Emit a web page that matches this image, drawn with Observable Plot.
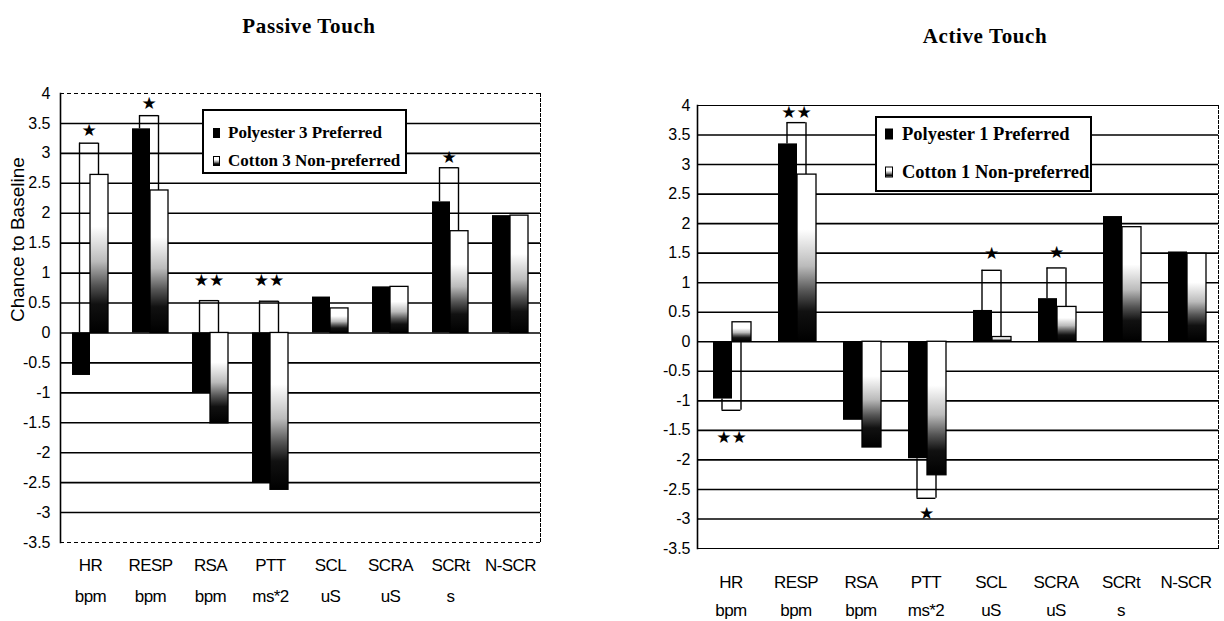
<!DOCTYPE html>
<html>
<head>
<meta charset="utf-8">
<script src="https://cdn.jsdelivr.net/npm/d3@7"></script>
<script src="https://cdn.jsdelivr.net/npm/@observablehq/plot@0.6"></script>
<style>
  html, body { margin: 0; padding: 0; background: #fff; }
  #fig { position: relative; width: 1224px; height: 621px; overflow: hidden; background: #fff; }
  .panel { position: absolute; top: 0; }
  .title { position: absolute; font-family: "Liberation Serif", "DejaVu Serif", serif; font-weight: bold;
           font-size: 21px; letter-spacing: 0.6px; white-space: nowrap; transform: translate(-50%, -50%); color: #000; }
  .legend { position: absolute; background: #fff; border: 2px solid #000; box-sizing: border-box;
            font-family: "Liberation Serif", "DejaVu Serif", serif; font-weight: bold; color: #000; }
  .legend .row { position: absolute; white-space: nowrap; display: flex; align-items: center; transform: translateY(-50%); }
  .sw { display: inline-block; box-sizing: border-box; }
  .sw.poly { background: #000; }
  .sw.cotton { border: 1.5px solid #000; background: linear-gradient(to bottom, #fff 0%, #fff 35%, #999 62%, #111 85%, #000 100%); }
  svg g[aria-label="x-axis tick label"] text { letter-spacing: -0.6px; }
</style>
</head>
<body>
<div id="fig"></div>
<script>
// ---------------- data ----------------
const categories = ["HR", "RESP", "RSA", "PTT", "SCL", "SCRA", "SCRt", "N-SCR"];
const units = ["bpm", "bpm", "bpm", "ms*2", "uS", "uS", "s", ""];
const yTicks = [4, 3.5, 3, 2.5, 2, 1.5, 1, 0.5, 0, -0.5, -1, -1.5, -2, -2.5, -3, -3.5];

// Passive touch
const passiveTitle = "Passive Touch";
const passiveSeries = ["Polyester 3 Preferred", "Cotton 3 Non-preferred"];
const passivePoly = [-0.71, 3.41, -1.00, -2.51, 0.60, 0.77, 2.19, 1.96];
const passiveCotton = [2.64, 2.38, -1.51, -2.62, 0.41, 0.77, 1.70, 1.96];
const passiveBracketCats = ["HR", "RESP", "RSA", "PTT", "SCRt"];
const passiveBracketLevels = [3.17, 3.63, 0.54, 0.53, 2.76];
const passiveStars = ["★", "★", "★★", "★★", "★"];
const passiveStarValues = [3.38, 3.83, 0.88, 0.88, 2.93];

// Active touch
const activeTitle = "Active Touch";
const activeSeries = ["Polyester 1 Preferred", "Cotton 1 Non-preferred"];
const activePoly = [-0.97, 3.35, -1.33, -1.98, 0.53, 0.73, 2.12, 1.52];
const activeCotton = [0.33, 2.83, -1.79, -2.26, 0.08, 0.59, 1.94, 1.49];
const activeBracketCats = ["HR", "RESP", "PTT", "SCL", "SCRA"];
const activeBracketLevels = [-1.16, 3.71, -2.65, 1.21, 1.25];
const activeStars = ["★★", "★★", "★", "★", "★"];
const activeStarValues = [-1.62, 3.88, -2.91, 1.49, 1.51];

const yAxisTitle = "Chance to Baseline";

// ---------------- drawing ----------------
function panel(cfg) {
  const rows = categories.map((c, i) => ({cat: c, unit: units[i], poly: cfg.poly[i], cotton: cfg.cotton[i]}));
  const byCat = new Map(rows.map(r => [r.cat, r]));
  const brackets = cfg.bracketCats.map((c, i) => {
    const r = byCat.get(c), lv = cfg.levels[i];
    const above = lv > 0;
    return {
      cat: c, level: lv, star: cfg.stars[i], starY: cfg.starValues[i],
      startP: above ? Math.max(r.poly, 0) : Math.min(r.poly, 0),
      startC: above ? Math.max(r.cotton, 0) : Math.min(r.cotton, 0)
    };
  });
  const gridVals = yTicks.filter(t => t > -3.5 && t < 4);
  const edgeVals = yTicks.filter(t => t === -3.5 || t === 4);
  const g = cfg.geom;
  const marks = [
    Plot.ruleY(gridVals, {stroke: "black", strokeWidth: 1.6}),
    Plot.ruleY(edgeVals, {stroke: "black", strokeWidth: 1, strokeDasharray: cfg.edgeDash}),
    Plot.frame({anchor: "right", stroke: "black", strokeWidth: 1, strokeDasharray: "3,2"}),
    Plot.frame({anchor: "left", stroke: "black", strokeWidth: 1.6}),
    Plot.barY(rows, {x: "cat", y: "poly", fill: "black", insetLeft: g.pL, insetRight: g.pR}),
    Plot.barY(rows, {x: "cat", y: "cotton", fill: `url(#${cfg.gradId})`, stroke: "black", strokeWidth: 1.3,
                     insetLeft: g.cL, insetRight: g.cR}),
    Plot.ruleX(brackets, {x: "cat", y1: "startP", y2: "level", dx: g.legL, stroke: "black", strokeWidth: 1.4}),
    Plot.ruleX(brackets, {x: "cat", y1: "startC", y2: "level", dx: g.legR, stroke: "black", strokeWidth: 1.4}),
    Plot.ruleY(brackets, {y: "level", x1: "cat", x2: "cat", insetLeft: g.bw / 2 + g.legL, insetRight: g.bw / 2 - g.legR,
                          stroke: "black", strokeWidth: 1.4}),
    Plot.text(brackets, {x: "cat", y: "starY", text: "star", dx: (g.legL + g.legR) / 2,
                         fontFamily: "DejaVu Sans, sans-serif", fontSize: 17, fill: "black"}),
    Plot.axisY({ticks: yTicks, tickFormat: d => String(d), tickSize: 0, tickPadding: g.tickPad, fontSize: 16, label: null}),
    Plot.axisX({tickFormat: d => d, tickSize: 0, tickPadding: g.xPad1, fontSize: 17, label: null}),
    Plot.axisX({tickFormat: d => byCat.get(d).unit, tickSize: 0, tickPadding: g.xPad2, fontSize: 17, label: null})
  ];
  if (cfg.yTitle) {
    marks.push(Plot.text([cfg.yTitle], {text: d => d, frameAnchor: "left", rotate: -90, dx: -43, dy: 4,
                                        fontSize: 19, fill: "black"}));
  }
  const svg = Plot.plot({
    width: cfg.width, height: 621,
    marginLeft: cfg.mL, marginRight: cfg.mR, marginTop: cfg.mT, marginBottom: cfg.mB,
    x: {domain: categories, padding: 0, label: null},
    y: {domain: [-3.5, 4], label: null},
    style: {fontFamily: "Liberation Sans, Arial, sans-serif", fontSize: "16px", background: "transparent",
            color: "black", overflow: "visible"},
    marks
  });
  const defs = d3.select(svg).insert("defs", ":first-child");
  const lg = defs.append("linearGradient").attr("id", cfg.gradId).attr("x1", 0).attr("y1", 0).attr("x2", 0).attr("y2", 1);
  [[0, "#fff"], [0.33, "#fff"], [0.55, "#bbb"], [0.7, "#555"], [0.82, "#111"], [1, "#000"]]
    .forEach(([o, c]) => lg.append("stop").attr("offset", o).attr("stop-color", c));
  svg.classList.add("panel");
  svg.style.left = cfg.left + "px";
  return svg;
}

const fig = document.getElementById("fig");

fig.appendChild(panel({
  poly: passivePoly, cotton: passiveCotton, bracketCats: passiveBracketCats, levels: passiveBracketLevels,
  stars: passiveStars, starValues: passiveStarValues, gradId: "gradPassive", yTitle: yAxisTitle,
  width: 600, left: 0, mL: 60, mR: 60, mT: 93, mB: 79, edgeDash: "4,3",
  geom: {bw: 60, pL: 12, pR: 30, cL: 30, cR: 12, legL: -11, legR: 8, tickPad: 10, xPad1: 16, xPad2: 47}
}));

fig.appendChild(panel({
  poly: activePoly, cotton: activeCotton, bracketCats: activeBracketCats, levels: activeBracketLevels,
  stars: activeStars, starValues: activeStarValues, gradId: "gradActive", yTitle: null,
  width: 612, left: 612, mL: 85, mR: 6, mT: 105, mB: 73, edgeDash: null,
  geom: {bw: 65.1, pL: 15, pR: 31, cL: 34, cR: 12, legL: -9, legR: 10, tickPad: 7, xPad1: 27, xPad2: 55}
}));

function addTitle(text, cx, cy) {
  const d = document.createElement("div");
  d.className = "title"; d.textContent = text;
  d.style.left = cx + "px"; d.style.top = cy + "px";
  fig.appendChild(d);
}
addTitle(passiveTitle, 309, 26);
addTitle(activeTitle, 985, 36);

function addLegend(series, box) {
  const lg = document.createElement("div");
  lg.className = "legend";
  Object.assign(lg.style, {left: box.x + "px", top: box.y + "px", width: box.w + "px", height: box.h + "px"});
  series.forEach((name, i) => {
    const row = document.createElement("div");
    row.className = "row";
    row.style.left = box.padL + "px";
    row.style.top = box.rows[i] + "px";
    row.style.fontSize = box.fs + "px";
    const sw = document.createElement("span");
    sw.className = "sw " + (i === 0 ? "poly" : "cotton");
    Object.assign(sw.style, {width: box.sw[0] + "px", height: box.sw[1] + "px", marginRight: box.gap + "px"});
    const t = document.createElement("span");
    t.textContent = name;
    row.appendChild(sw); row.appendChild(t);
    lg.appendChild(row);
  });
  fig.appendChild(lg);
}
addLegend(passiveSeries, {x: 202, y: 109, w: 205, h: 65, padL: 9, rows: [22, 50], fs: 17, sw: [7, 10], gap: 8});
addLegend(activeSeries, {x: 875, y: 116, w: 217, h: 76, padL: 8, rows: [16, 54], fs: 18.5, sw: [8, 11], gap: 9});
</script>
</body>
</html>
